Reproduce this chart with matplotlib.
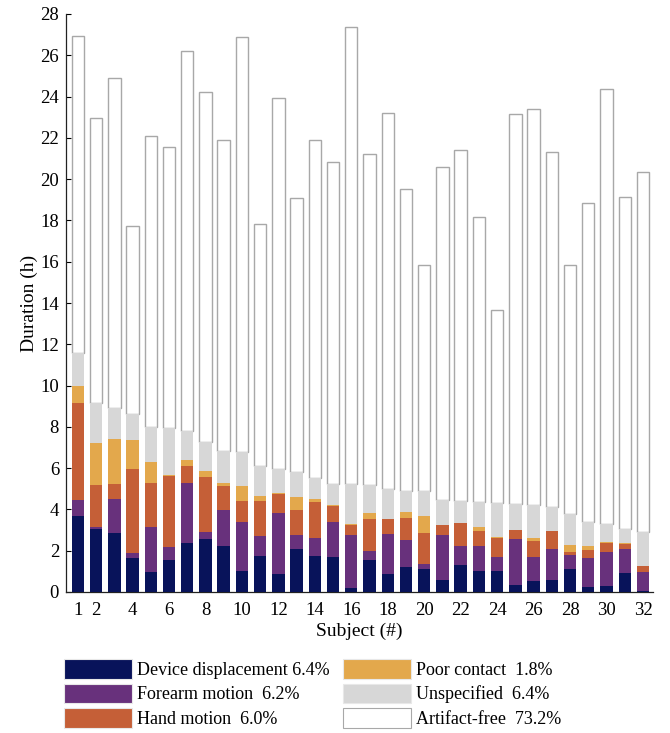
import numpy as np
import matplotlib
matplotlib.use("Agg")
import matplotlib.pyplot as plt
from matplotlib.patches import Patch

plt.rcParams['font.family'] = ['Liberation Serif', 'DejaVu Serif']

subjects = list(range(1, 33))

device_displacement = [3.70, 3.05, 2.84, 1.64, 0.97, 1.53, 2.37, 2.56, 2.24, 1.02, 1.75, 0.89,
                       2.06, 1.73, 1.70, 0.19, 1.54, 0.86, 1.23, 1.13, 0.60, 1.33, 1.00, 1.00,
                       0.36, 0.53, 0.58, 1.09, 0.26, 0.29, 0.91, 0.03]
forearm_motion = [0.77, 0.11, 1.67, 0.26, 2.19, 0.63, 2.91, 0.33, 1.73, 2.35, 0.96, 2.92,
                  0.71, 0.90, 1.69, 2.55, 0.47, 1.94, 1.31, 0.22, 2.16, 0.89, 1.24, 0.70,
                  2.23, 1.17, 1.51, 0.68, 1.38, 1.64, 1.18, 0.92]
hand_motion = [4.67, 2.01, 0.73, 4.07, 2.11, 3.46, 0.80, 2.69, 1.17, 1.05, 1.68, 0.94,
               1.20, 1.75, 0.78, 0.52, 1.52, 0.72, 1.03, 1.49, 0.48, 1.10, 0.73, 0.93,
               0.41, 0.78, 0.86, 0.19, 0.39, 0.45, 0.24, 0.30]
poor_contact = [0.86, 2.06, 2.18, 1.37, 1.05, 0.04, 0.32, 0.29, 0.13, 0.72, 0.26, 0.03,
                0.65, 0.13, 0.04, 0.01, 0.31, 0.01, 0.29, 0.84, 0.02, 0.03, 0.19, 0.02,
                0.02, 0.13, 0.02, 0.33, 0.19, 0.03, 0.03, 0.01]
unspecified = [1.60, 1.93, 1.49, 1.27, 1.65, 2.28, 1.41, 1.38, 1.55, 1.62, 1.44, 1.18,
               1.18, 1.00, 1.03, 1.97, 1.33, 1.46, 1.02, 1.20, 1.21, 1.04, 1.18, 1.68,
               1.24, 1.60, 1.15, 1.49, 1.15, 0.88, 0.69, 1.67]
artifact_free = [15.35, 13.80, 16.00, 9.14, 14.12, 13.61, 18.39, 16.98, 15.06, 20.14, 11.74, 17.98,
                 13.28, 16.39, 15.57, 22.15, 16.03, 18.23, 14.65, 10.97, 16.11, 17.00, 13.84, 9.32,
                 18.90, 19.17, 17.18, 12.06, 15.49, 21.08, 16.08, 17.44]

labels = ["Device displacement 6.4%", "Forearm motion  6.2%", "Hand motion  6.0%",
          "Poor contact  1.8%", "Unspecified  6.4%", "Artifact-free  73.2%"]
colors = ["#08135a", "#68317c", "#c55f37", "#e3a84c", "#d7d7d7", "#ffffff"]

xticks = [1, 2, 4, 6, 8, 10, 12, 14, 16, 18, 20, 22, 24, 26, 28, 30, 32]
yticks = list(range(0, 29, 2))

series = [device_displacement, forearm_motion, hand_motion, poor_contact, unspecified, artifact_free]

fig = plt.figure(figsize=(6.70, 7.33), dpi=100)
ax = fig.add_axes([66/670, 1 - 592/733, (653 - 66)/670, (592 - 14)/733])

x = np.array(subjects)
bottom = np.zeros(len(subjects))
for vals, col, lab in zip(series, colors, labels):
    vals = np.array(vals)
    if col == "#ffffff":
        ax.bar(x, vals, bottom=bottom, width=0.68, color=col, edgecolor="#a8a8a8",
               linewidth=1.0, label=lab, zorder=2)
    else:
        ax.bar(x, vals, bottom=bottom, width=0.68, color=col, edgecolor="none",
               linewidth=0, label=lab, zorder=3)
    bottom = bottom + vals

ax.set_xlim(0.35, 32.55)
ax.set_ylim(0, 28)
ax.set_xticks(xticks)
ax.set_yticks(yticks)
ax.tick_params(direction='in', length=3.5, width=0.8, labelsize=13.5, pad=5)
ax.tick_params(axis='x', pad=7)
for s in ['top', 'right']:
    ax.spines[s].set_visible(False)
for s in ['left', 'bottom']:
    ax.spines[s].set_linewidth(0.9)
    ax.spines[s].set_color('#222222')

ax.set_xlabel("Subject (#)", fontsize=14, labelpad=3)
ax.set_ylabel("Duration (h)", fontsize=14, labelpad=2)

leg_handles = []
for col, lab in zip(colors, labels):
    ec = "#a8a8a8" if col == "#ffffff" else "#e8e8e8"
    leg_handles.append(Patch(facecolor=col, edgecolor=ec, linewidth=0.8, label=lab))

fig.legend(handles=leg_handles, labels=labels, ncol=2, loc='upper left',
           bbox_to_anchor=(64/670, 1 - 659/733), frameon=False, fontsize=13,
           handlelength=3.75, handleheight=1.3, handletextpad=0.28,
           columnspacing=0.75, labelspacing=0.26, borderaxespad=0, borderpad=0)

fig.savefig("out.png", dpi=100)
